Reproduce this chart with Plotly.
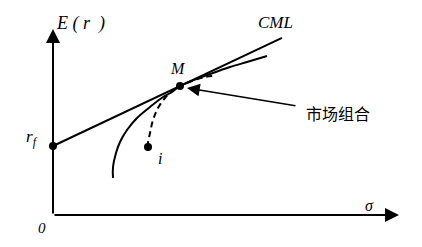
import plotly.graph_objects as go

# ---- data (abstract units) ----
rf = 0.69
m_sigma, m_ret = 1.27, 1.29
cml_sigma = [0.0, 2.29]
frontier_sigma = [0.60, 0.60, 0.63, 0.67, 0.74, 0.84, 0.97, 1.10, 1.19, 1.27, 1.60, 1.77, 1.94, 2.14]
frontier_ret = [0.37, 0.48, 0.62, 0.73, 0.85, 0.97, 1.08, 1.18, 1.23, 1.29, 1.42, 1.48, 1.53, 1.59]
asset_sigma = [0.95, 0.95, 0.97, 1.00, 1.05, 1.12, 1.17, 1.27, 1.39, 1.52, 1.61]
asset_ret = [0.68, 0.72, 0.82, 0.95, 1.07, 1.17, 1.22, 1.29, 1.34, 1.38, 1.39]
i_sigma, i_ret = 0.95, 0.68
x_axis_end, y_axis_end = 3.46, 1.86
pointer_from = (2.44, 1.09)
pointer_to = (1.34, 1.27)

slope = (m_ret - rf) / m_sigma
cml_ret = [rf + slope * s for s in cml_sigma]

serif = "Liberation Serif"
fig = go.Figure()

# CML
fig.add_trace(go.Scatter(x=cml_sigma, y=cml_ret, mode="lines",
                         line=dict(color="black", width=2), hoverinfo="skip"))
# efficient frontier
fig.add_trace(go.Scatter(x=frontier_sigma, y=frontier_ret, mode="lines",
                         line=dict(color="black", width=2, shape="spline", smoothing=1.0),
                         hoverinfo="skip"))
# asset i combined with market portfolio (dashed)
fig.add_trace(go.Scatter(x=asset_sigma, y=asset_ret, mode="lines",
                         line=dict(color="black", width=2, dash="6px,4px", shape="spline"),
                         hoverinfo="skip"))
# points
fig.add_trace(go.Scatter(x=[0, m_sigma, i_sigma], y=[rf, m_ret, i_ret], mode="markers",
                         marker=dict(color="black", size=8), hoverinfo="skip"))

ann = []

def arrow(x0, y0, x1, y1, width, size):
    ann.append(dict(x=x1, y=y1, ax=x0, ay=y0, xref="x", yref="y", axref="x", ayref="y",
                    showarrow=True, arrowhead=2, arrowsize=size, arrowwidth=width,
                    arrowcolor="black", text=""))

arrow(0, 0, x_axis_end, 0, 2, 1.4)
arrow(0, 0, 0, y_axis_end, 2, 1.4)
arrow(pointer_from[0], pointer_from[1], pointer_to[0], pointer_to[1], 1.5, 1.7)

def label(x, y, text, size=16, family=serif, italic=True):
    t = f"<i>{text}</i>" if italic else text
    ann.append(dict(x=x, y=y, xref="x", yref="y", text=t, showarrow=False,
                    font=dict(family=family, size=size, color="black")))

label(0.27, 1.92, "E ( r  )", size=18)
label(2.22, 1.93, "CML", size=17)
label(1.25, 1.47, "M", size=16)
label(-0.21, 0.77, "r<sub>f</sub>", size=17)
label(1.07, 0.57, "i", size=16)
label(-0.11, -0.13, "0", size=15)
label(3.16, 0.10, "σ", size=16)
label(2.85, 1.02, "市场组合", size=16, family="Noto Sans CJK SC", italic=False)

fig.update_layout(
    width=422, height=247, margin=dict(l=0, r=0, t=0, b=0),
    paper_bgcolor="white", plot_bgcolor="white", showlegend=False,
    annotations=ann,
    xaxis=dict(range=[-0.53, 3.69], visible=False, fixedrange=True),
    yaxis=dict(range=[-0.32, 2.15], visible=False, fixedrange=True),
)
fig.write_html("out.html")
